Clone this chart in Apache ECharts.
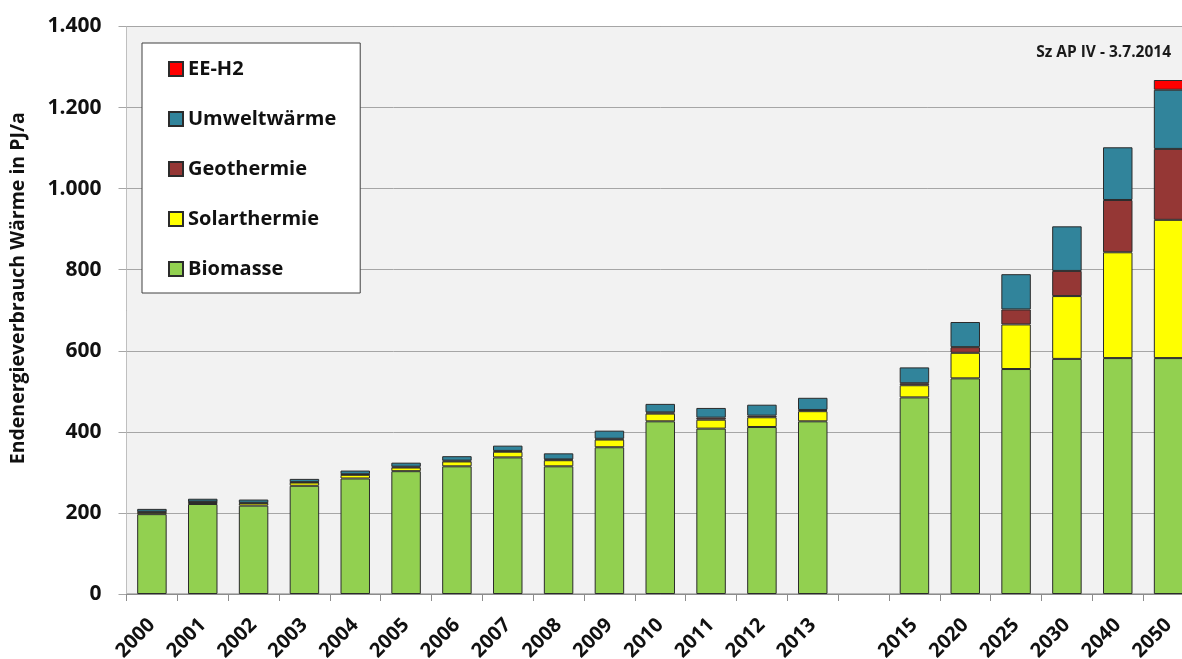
<!DOCTYPE html>
<html>
<head>
<meta charset="utf-8">
<script src="https://cdn.jsdelivr.net/npm/echarts@6/dist/echarts.min.js"></script>
<style>
html,body{margin:0;padding:0;background:#fff;overflow:hidden;width:1182px;height:659px;}
#chart{width:1194px;height:659px;}
</style>
</head>
<body>
<div id="chart"></div>
<script>
var categories = ['2000','2001','2002','2003','2004','2005','2006','2007','2008','2009','2010','2011','2012','2013','','2015','2020','2025','2030','2040','2050'];
var biomasse   = [197, 222, 218, 267, 285, 303, 315, 337, 315, 362, 426, 408, 412, 426, null, 485, 532, 555, 580, 582, 582];
var solar      = [5, 5, 6, 8, 9, 9, 12, 14, 15, 19, 19, 22, 24, 25, null, 30, 63, 110, 155, 261, 341];
var geo        = [1, 1, 1, 1, 1.5, 2, 2, 2, 2, 2, 3, 5, 4, 3, null, 5, 14, 37, 62, 129, 175];
var umwelt     = [7, 7, 8, 8, 9, 10, 11, 13, 15, 20, 21, 24, 27, 30, null, 39, 62, 87, 110, 130, 146];
var eeh2       = [null, null, null, null, null, null, null, null, null, null, null, null, null, null, null, null, null, null, null, null, 24];
var yTicks = [0, 200, 400, 600, 800, 1000, 1200, 1400];

var FONT = 'Open Sans';
function fmt(v){ return String(v).replace(/\B(?=(\d{3})+(?!\d))/g, '.'); }
function mk(name, data, color){
  return {
    name: name, type: 'bar', stack: 'total', data: data,
    barCategoryGap: '42%',
    itemStyle: { color: color, borderColor: '#2b2b2b', borderWidth: 1 },
    emphasis: { disabled: true }
  };
}
var chart = echarts.init(document.getElementById('chart'), null, {renderer: 'canvas'});
chart.setOption({
  animation: false,
  backgroundColor: '#ffffff',
  textStyle: { fontFamily: FONT },
  title: {
    text: 'Sz AP IV - 3.7.2014',
    right: 18, top: 40,
    textStyle: { fontFamily: FONT, fontSize: 15.5, fontWeight: 'bold', color: '#1a1a1a' }
  },
  legend: {
    orient: 'vertical',
    left: 142, top: 43,
    data: ['EE-H2', 'Umweltwärme', 'Geothermie', 'Solarthermie', 'Biomasse'],
    icon: 'rect',
    itemWidth: 14, itemHeight: 14,
    itemGap: 30,
    padding: [16, 24, 14, 26],
    backgroundColor: '#ffffff',
    borderColor: '#404040', borderWidth: 1,
    textStyle: { fontFamily: FONT, fontSize: 20, fontWeight: 'bold', color: '#111', lineHeight: 20 }
  },
  grid: {
    left: 126.5, right: 0, top: 26.5, bottom: 65,
    show: true, backgroundColor: '#f2f2f2', borderColor: '#808080', borderWidth: 1,
    containLabel: false,
    outerBoundsMode: 'none'
  },
  xAxis: {
    type: 'category', data: categories,
    axisLine: { lineStyle: { color: '#8c8c8c', width: 1 } },
    axisTick: { show: true, length: 7, lineStyle: { color: '#8c8c8c' } },
    axisLabel: { rotate: 45, interval: 0, fontFamily: FONT, fontSize: 20, fontWeight: 'bold', color: '#111', margin: 28, hideOverlap: false }
  },
  yAxis: {
    type: 'value', min: 0, max: 1400, interval: 200,
    name: 'Endenergieverbrauch Wärme in PJ/a',
    nameLocation: 'middle', nameGap: 98,
    nameTextStyle: { fontFamily: FONT, fontSize: 19.5, fontWeight: 'bold', color: '#111', padding: [0, 0, 0, 44] },
    axisLine: { show: true, lineStyle: { color: '#bfbfbf' } },
    axisTick: { show: true, length: 8, lineStyle: { color: '#a6a6a6' } },
    splitLine: { lineStyle: { color: '#a6a6a6', width: 1 } },
    axisLabel: { fontFamily: FONT, fontSize: 21, fontWeight: 'bold', color: '#111', margin: 25,
      formatter: function(v){ return fmt(v); } }
  },
  series: [
    mk('Biomasse', biomasse, '#92d050'),
    mk('Solarthermie', solar, '#ffff00'),
    mk('Geothermie', geo, '#953735'),
    mk('Umweltwärme', umwelt, '#31849b'),
    mk('EE-H2', eeh2, '#ff0000')
  ]
});
</script>
</body>
</html>
